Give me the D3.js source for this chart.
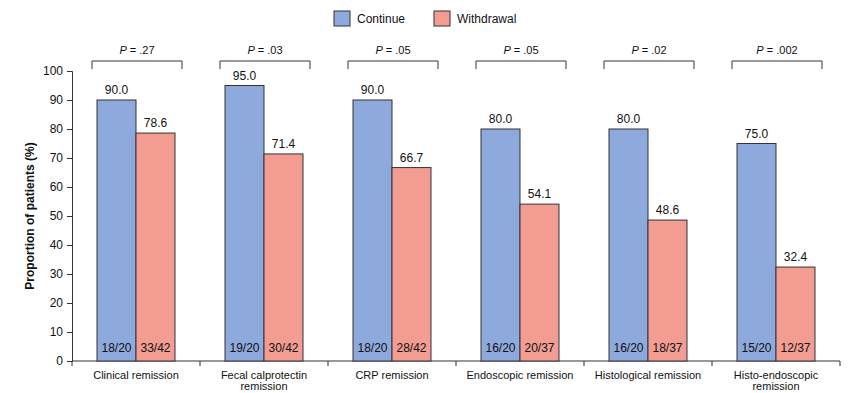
<!DOCTYPE html>
<html>
<head>
<meta charset="utf-8">
<script src="https://cdn.jsdelivr.net/npm/d3@7"></script>
<style>
  body { margin: 0; background: #fff; }
  svg { font-family: "Liberation Sans", Arial, sans-serif; }
</style>
</head>
<body>
<div id="chart"></div>
<script>
// data
let categories = [
  ["Clinical remission"],
  ["Fecal calprotectin", "remission"],
  ["CRP remission"],
  ["Endoscopic remission"],
  ["Histological remission"],
  ["Histo-endoscopic", "remission"]
];
let continueVals = [90.0, 95.0, 90.0, 80.0, 80.0, 75.0];
let withdrawVals = [78.6, 71.4, 66.7, 54.1, 48.6, 32.4];
let continueCounts = ["18/20", "19/20", "18/20", "16/20", "16/20", "15/20"];
let withdrawCounts = ["33/42", "30/42", "28/42", "20/37", "18/37", "12/37"];
let pValues = [".27", ".03", ".05", ".05", ".02", ".002"];
let yTicks = [0, 10, 20, 30, 40, 50, 60, 70, 80, 90, 100];
let seriesNames = ["Continue", "Withdrawal"];
let colors = ["#8eaadc", "#f39c91"];

let w = 866, h = 393;
let padLeft = 72, padRight = 840, padTop = 71, padBottom = 361;

let svg = d3.select("#chart").append("svg")
  .attr("width", w).attr("height", h);

let x = d3.scaleBand().domain(d3.range(categories.length)).range([padLeft, padRight]);
let inner = d3.scaleBand().domain([0, 1]).range([0, 78]);
let y = d3.scaleLinear().domain([0, 100]).range([padBottom, padTop]);

// y axis
let yAxis = svg.append("g")
  .attr("transform", "translate(" + padLeft + ",0)")
  .call(d3.axisLeft(y).tickValues(yTicks).tickSize(5).tickPadding(4));
yAxis.select(".domain").attr("stroke", "#333");
yAxis.selectAll("line").attr("stroke", "#333");
yAxis.selectAll("text").attr("font-size", 12).attr("fill", "#111").attr("font-family", "Liberation Sans, Arial");

svg.append("text")
  .attr("transform", "translate(34," + (padTop + padBottom) / 2 + ") rotate(-90)")
  .attr("text-anchor", "middle")
  .attr("font-size", 12)
  .attr("font-weight", "bold")
  .attr("fill", "#111")
  .text("Proportion of patients (%)");

// x axis with tick marks at band boundaries
svg.append("line")
  .attr("x1", padLeft).attr("x2", padRight)
  .attr("y1", padBottom).attr("y2", padBottom)
  .attr("stroke", "#333");
let bounds = d3.range(categories.length + 1).map(i => i < categories.length ? x(i) : x(i - 1) + x.bandwidth());
svg.append("g").selectAll("line").data(bounds).enter().append("line")
  .attr("x1", d => d).attr("x2", d => d)
  .attr("y1", padBottom).attr("y2", padBottom + 5)
  .attr("stroke", "#333");

let xLabels = svg.append("g").selectAll("text").data(categories).enter().append("text")
  .attr("x", (d, i) => x(i) + x.bandwidth() / 2)
  .attr("y", padBottom + 18)
  .attr("text-anchor", "middle")
  .attr("font-size", 11)
  .attr("fill", "#111");
xLabels.each(function(d) {
  let t = d3.select(this);
  d.forEach((line, j) => {
    t.append("tspan").attr("x", t.attr("x")).attr("dy", j == 0 ? 0 : 11).text(line);
  });
});

// bars
let groups = svg.append("g").selectAll("g").data(categories).enter().append("g")
  .attr("transform", (d, i) => "translate(" + (x(i) + x.bandwidth() / 2 - 39) + ",0)");

groups.each(function(d, i) {
  let g = d3.select(this);
  let vals = [continueVals[i], withdrawVals[i]];
  let counts = [continueCounts[i], withdrawCounts[i]];
  vals.forEach((v, k) => {
    g.append("rect")
      .attr("x", inner(k))
      .attr("y", y(v))
      .attr("width", inner.bandwidth())
      .attr("height", y(0) - y(v))
      .attr("fill", colors[k])
      .attr("stroke", "#333")
      .attr("stroke-width", 1);
    g.append("text")
      .attr("x", inner(k) + inner.bandwidth() / 2)
      .attr("y", y(v) - 6)
      .attr("text-anchor", "middle")
      .attr("font-size", 12)
      .attr("fill", "#111")
      .text(v.toFixed(1));
    g.append("text")
      .attr("x", inner(k) + inner.bandwidth() / 2)
      .attr("y", padBottom - 9)
      .attr("text-anchor", "middle")
      .attr("font-size", 12)
      .attr("fill", "#111")
      .text(counts[k]);
  });
  // significance bracket
  g.append("path")
    .attr("d", "M-5,69 V61 H85 V69")
    .attr("fill", "none")
    .attr("stroke", "#333");
  let p = g.append("text")
    .attr("x", 40).attr("y", 54)
    .attr("text-anchor", "middle")
    .attr("font-size", 11)
    .attr("fill", "#111");
  p.append("tspan").attr("font-style", "italic").text("P");
  p.append("tspan").text(" = " + pValues[i]);
});

// legend
let legendX = [334, 434];
let legend = svg.append("g").selectAll("g").data(seriesNames).enter().append("g")
  .attr("transform", (d, i) => "translate(" + legendX[i] + ",11)");
legend.append("rect")
  .attr("width", 16).attr("height", 15)
  .attr("fill", (d, i) => colors[i])
  .attr("stroke", "#333");
legend.append("text")
  .attr("x", 23).attr("y", 12)
  .attr("font-size", 12)
  .attr("fill", "#111")
  .text(d => d);
</script>
</body>
</html>
